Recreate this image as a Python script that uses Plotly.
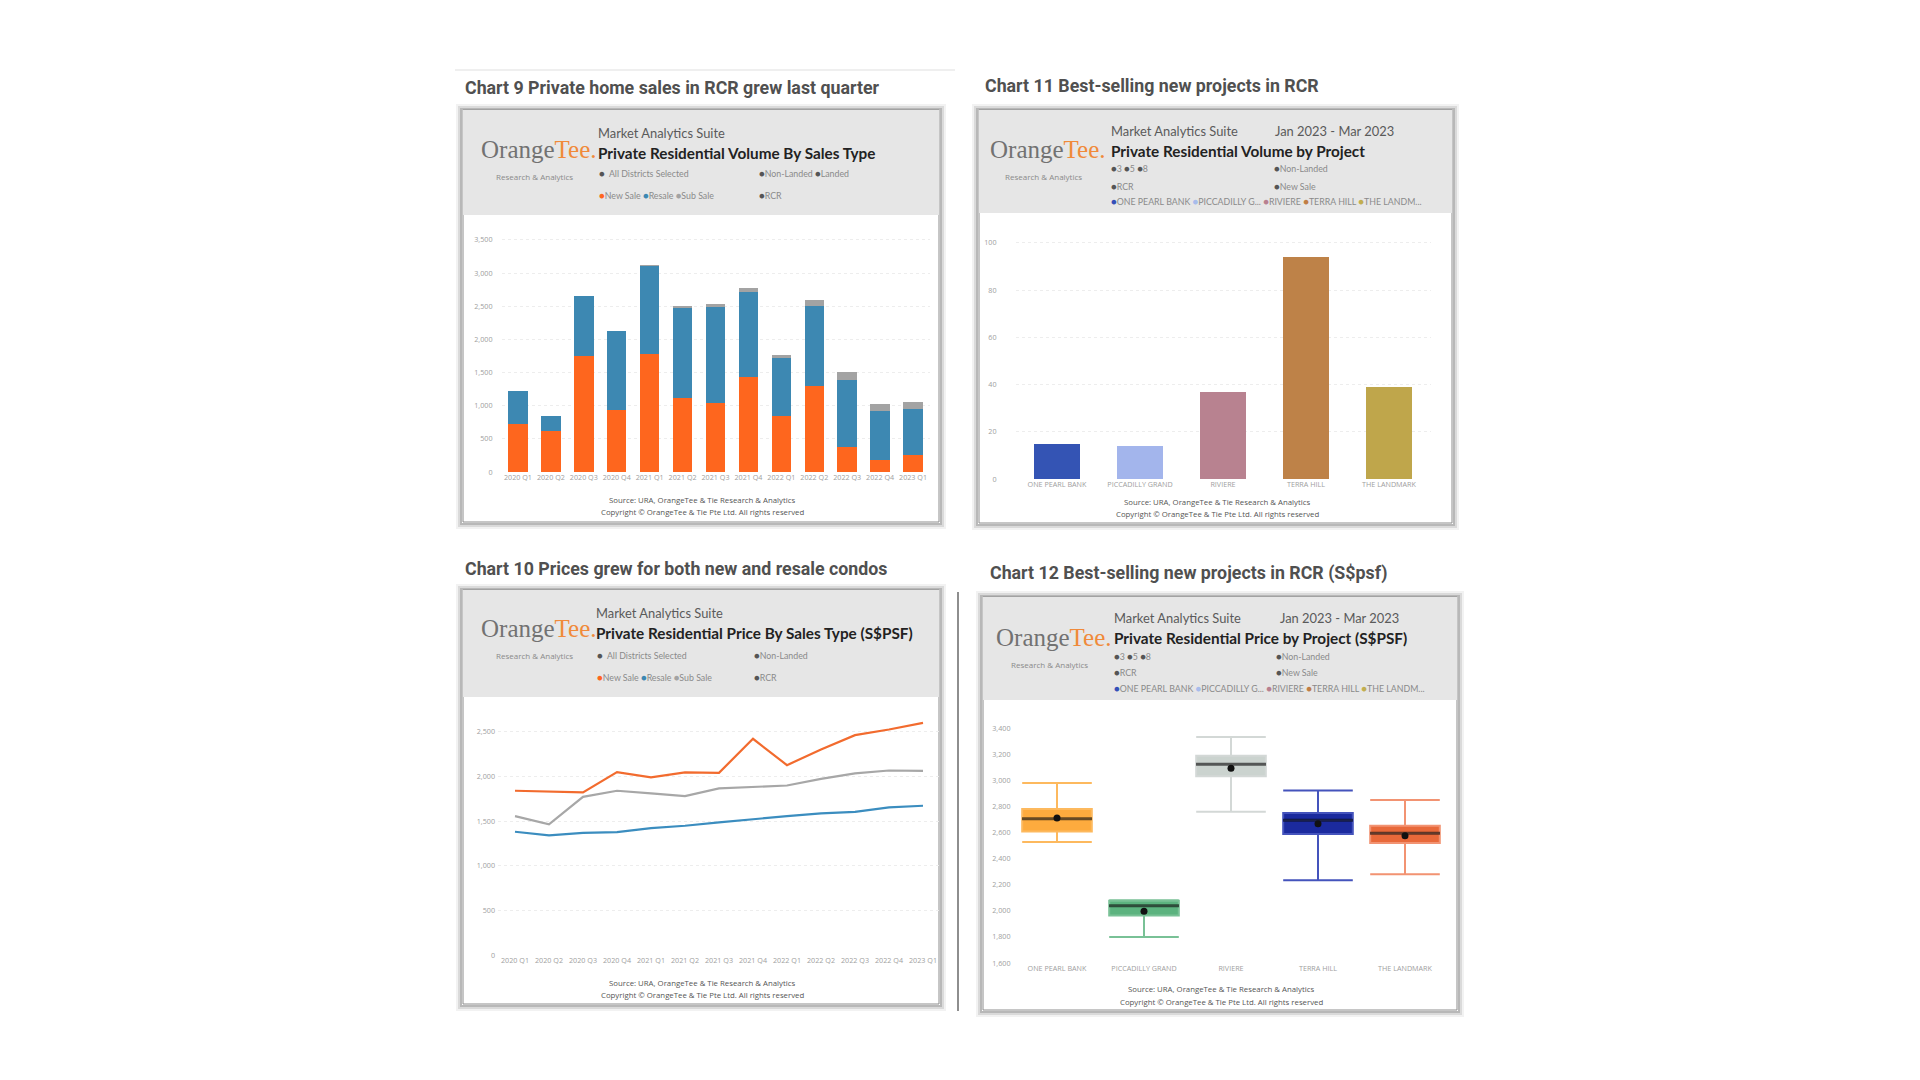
import plotly.graph_objects as go

# ---------------- DATA ----------------
quarters = ["2020 Q1", "2020 Q2", "2020 Q3", "2020 Q4", "2021 Q1", "2021 Q2", "2021 Q3",
            "2021 Q4", "2022 Q1", "2022 Q2", "2022 Q3", "2022 Q4", "2023 Q1"]
new_sale_vol = [720, 619, 1747, 932, 1778, 1118, 1047, 1435, 841, 1299, 378, 186, 262]
resale_vol = [500, 222, 912, 1198, 1334, 1350, 1446, 1284, 871, 1204, 1007, 736, 695]
subsale_vol = [0, 0, 0, 0, 10, 35, 35, 61, 51, 86, 121, 105, 106]

projects = ["ONE PEARL BANK", "PICCADILLY GRAND", "RIVIERE", "TERRA HILL", "THE LANDMARK"]
project_volume = [15, 14, 37, 94, 39]

new_sale_psf = [1840, 1832, 1821, 2049, 1989, 2045, 2041, 2422, 2127, 2302, 2463, 2526, 2601]
resale_psf = [1381, 1340, 1369, 1377, 1422, 1448, 1485, 1522, 1556, 1586, 1604, 1653, 1672]
subsale_psf = [1556, 1463, 1772, 1840, 1810, 1780, 1866, 1881, 1899, 1974, 2034, 2067, 2063]

box_max = [2979, 2080, 3331, 2922, 2848]
box_q3 = [2780, 2077, 3188, 2749, 2652]
box_median = [2705, 2039, 3122, 2693, 2593]
box_q1 = [2608, 1963, 3030, 2588, 2519]
box_min = [2527, 1799, 2759, 2233, 2279]
box_mean = [2711, 1996, 3091, 2667, 2575]

# ---------------- STYLE ----------------
W, H = 1920, 1080
C_NEW, C_RES, C_SUB = "#FE661E", "#3D88B2", "#A3A3A3"
L_NEW, L_RES, L_SUB = "#F26B2E", "#3B8DBF", "#A7A7A7"
proj_bar_colors = ["#3454B4", "#A3B5EC", "#B88290", "#BE8248", "#BFA64B"]
box_fill = ["#FDAB3E", "#5CB37F", "#CBD3CF", "#1B2A9E", "#E8693A"]
box_line = ["#FDB95E", "#79C196", "#D3D8D6", "#4453BC", "#F29372"]
HDR_FONT = "Lato"
TITLE_FONT = "Roboto"


def X(px):
    return px / W


def Y(py):
    return 1 - py / H


fig = go.Figure()

# Chart 9 - stacked bars
for name, vals, col in [("New Sale", new_sale_vol, C_NEW), ("Resale", resale_vol, C_RES),
                        ("Sub Sale", subsale_vol, C_SUB)]:
    fig.add_trace(go.Bar(x=quarters, y=vals, name=name, marker=dict(color=col, line=dict(width=0)),
                         xaxis="x", yaxis="y", showlegend=False))

# Chart 11 - bars per project
fig.add_trace(go.Bar(x=projects, y=project_volume, marker=dict(color=proj_bar_colors, line=dict(width=0)),
                     xaxis="x2", yaxis="y2", showlegend=False, width=0.56))

# Chart 10 - lines
for name, vals, col in [("Sub Sale", subsale_psf, L_SUB), ("Resale", resale_psf, L_RES),
                        ("New Sale", new_sale_psf, L_NEW)]:
    fig.add_trace(go.Scatter(x=quarters, y=vals, mode="lines", name=name,
                             line=dict(color=col, width=2.2), xaxis="x3", yaxis="y3", showlegend=False))

# Chart 12 - box plots
for i, p in enumerate(projects):
    fig.add_trace(go.Box(x=[p], q1=[box_q1[i]], median=[box_median[i]], q3=[box_q3[i]],
                         lowerfence=[box_min[i]], upperfence=[box_max[i]],
                         fillcolor=box_fill[i], line=dict(color=box_line[i], width=2),
                         whiskerwidth=1, width=0.8, xaxis="x4", yaxis="y4", showlegend=False,
                         hoverinfo="skip"))
fig.add_trace(go.Scatter(x=projects, y=box_median, mode="markers",
                         marker=dict(symbol="line-ew", size=50, line=dict(color="rgba(0,0,0,0.6)", width=3)),
                         xaxis="x4", yaxis="y4", showlegend=False))
fig.add_trace(go.Scatter(x=projects, y=box_mean, mode="markers",
                         marker=dict(symbol="circle", size=7, color="#111111"),
                         xaxis="x4", yaxis="y4", showlegend=False))

tickfont = dict(family="Open Sans", size=7.2, color="#A0A0A0")
grid = dict(showgrid=True, gridcolor="#EDEDED", griddash="dot", gridwidth=1, zeroline=False,
            showline=False, ticks="")
xcommon = dict(showgrid=False, zeroline=False, showline=False, ticks="", tickfont=tickfont,
               type="category", tickangle=0)

layout = dict(
    width=W, height=H, margin=dict(l=0, r=0, t=0, b=0, pad=0),
    paper_bgcolor="white", plot_bgcolor="rgba(0,0,0,0)", template="none",
    barmode="stack", boxmode="overlay", showlegend=False, bargap=0.41,
    xaxis=dict(domain=[X(501.5), X(929.5)], anchor="y", range=[-0.5, 12.5], **xcommon),
    yaxis=dict(domain=[Y(472), Y(230)], anchor="x", range=[0, 3650], tickvals=[0, 500, 1000, 1500, 2000, 2500, 3000, 3500],
               tickformat=",", tickfont=tickfont, ticklabelstandoff=8, **grid),
    xaxis2=dict(domain=[X(1015.5), X(1430.5)], anchor="y2", range=[-0.5, 4.5], **xcommon),
    yaxis2=dict(domain=[Y(479), Y(231)], anchor="x2", range=[0, 105], tickvals=[0, 20, 40, 60, 80, 100],
                tickfont=tickfont, ticklabelstandoff=18, **grid),
    xaxis3=dict(domain=[X(498), X(940)], anchor="y3", range=[-0.5, 12.5], **xcommon),
    yaxis3=dict(domain=[Y(955), Y(714)], anchor="x3", range=[0, 2700], tickvals=[0, 500, 1000, 1500, 2000, 2500],
                tickformat=",", tickprefix="$", tickfont=tickfont, ticklabelstandoff=2, **grid),
    xaxis4=dict(domain=[X(1013.5), X(1448.5)], anchor="y4", range=[-0.5, 4.5], **xcommon),
    yaxis4=dict(domain=[Y(963), Y(721.5)], anchor="x4", range=[1600, 3450],
                tickvals=[1600, 1800, 2000, 2200, 2400, 2600, 2800, 3000, 3200, 3400],
                tickformat=",", tickprefix="$", tickfont=tickfont, ticklabelstandoff=2,
                showgrid=False, zeroline=False, showline=False, ticks=""),
)
fig.update_layout(**layout)

shapes = []
annots = []


def rect(x0, y0, x1, y1, **kw):
    shapes.append(dict(type="rect", xref="paper", yref="paper", x0=X(x0), x1=X(x1), y0=Y(y1), y1=Y(y0),
                       layer="below", **kw))


def text(x, y, t, size, color="#555", family=HDR_FONT, xanchor="left", bold=False):
    if bold:
        t = "<b>" + t + "</b>"
    annots.append(dict(xref="paper", yref="paper", x=X(x), y=Y(y), text=t, showarrow=False,
                       xanchor=xanchor, yanchor="middle", font=dict(family=family, size=size, color=color)))


def card(x0, y0, x1, y1, hdr_bottom):
    for off, col in [(6, "#F2F2F2"), (4, "#DADADA"), (2, "#B8B8B8")]:
        rect(x0 - off, y0 - off + 1, x1 + off, y1 + off, line=dict(width=2, color=col), fillcolor="rgba(0,0,0,0)")
    rect(x0, y0, x1, y1, line=dict(width=1, color="#8C8C8C"), fillcolor="white")
    rect(x0, y0, x1, hdr_bottom, line=dict(width=0), fillcolor="#E6E6E6")


def logo(x, y):
    text(x, y, "<span style='color:#727272'>Orange</span><span style='color:#F08A3A'>Tee.</span>", 25,
         family="Liberation Serif")
    text(x + 55, y + 27, "Research &amp; Analytics", 8, color="#8A8A8A", xanchor="center", family="Open Sans")


def dot(c):
    return "<span style='color:%s;font-size:9.5px'>●</span>" % c


# faint rule at top
shapes.append(dict(type="line", xref="paper", yref="paper", x0=X(455), x1=X(955), y0=Y(70), y1=Y(70),
                   line=dict(color="#EFEFEF", width=2), layer="below"))
# vertical separator line
shapes.append(dict(type="line", xref="paper", yref="paper", x0=X(958), x1=X(958), y0=Y(592), y1=Y(1011),
                   line=dict(color="#8E8E8E", width=2), layer="below"))

SEC = "#505050"
DK = "#5A5A5A"
GR = "#8A8A8A"
SL = 8.8
TS = 17.8
MS = 12.9
BS = 15.3
FS = 7.8

# ---- Chart 9 ----
text(463, 87, "Chart 9 Private home sales in RCR grew last quarter", TS, SEC, TITLE_FONT, bold=True)
card(463, 110, 939, 522, 215)
logo(479, 149)
text(596, 133, "Market Analytics Suite", MS, DK)
text(596, 153, "Private Residential Volume By Sales Type", BS, "#222", bold=True)
text(597, 173, dot("#555") + "  All Districts Selected", SL, GR)
text(757, 173, dot("#555") + "Non-Landed " + dot("#555") + "Landed", SL, GR)
text(597, 196, dot(C_NEW) + "New Sale " + dot(C_RES) + "Resale " + dot(C_SUB) + "Sub Sale", SL, GR)
text(757, 196, dot("#555") + "RCR", SL, GR)
text(702, 500, "Source: URA, OrangeTee &amp; Tie Research &amp; Analytics", FS, "#555", "Open Sans", "center")
text(702, 512, "Copyright © OrangeTee &amp; Tie Pte Ltd. All rights reserved", FS, "#555", "Open Sans", "center")

# ---- Chart 11 ----
text(983, 85, "Chart 11 Best-selling new projects in RCR", TS, SEC, TITLE_FONT, bold=True)
card(979, 110, 1452, 523, 213)
logo(988, 149)
text(1109, 131, "Market Analytics Suite", MS, DK)
text(1273, 131, "Jan 2023 - Mar 2023", MS, DK)
text(1109, 151, "Private Residential Volume by Project", BS, "#222", bold=True)
text(1109, 169, dot("#555") + "3 " + dot("#555") + "5 " + dot("#555") + "8", SL, GR)
text(1272, 169, dot("#555") + "Non-Landed", SL, GR)
text(1109, 186, dot("#555") + "RCR", SL, GR)
text(1272, 186, dot("#555") + "New Sale", SL, GR)
text(1109, 201, dot("#3450B8") + "ONE PEARL BANK " + dot("#A8BCEB") + "PICCADILLY G... " + dot("#B88090")
     + "RIVIERE " + dot("#C07E45") + "TERRA HILL " + dot("#C2AE50") + "THE LANDM...", SL, GR)
text(1217, 502, "Source: URA, OrangeTee &amp; Tie Research &amp; Analytics", FS, "#555", "Open Sans", "center")
text(1217, 514, "Copyright © OrangeTee &amp; Tie Pte Ltd. All rights reserved", FS, "#555", "Open Sans", "center")

# ---- Chart 10 ----
text(463, 568, "Chart 10 Prices grew for both new and resale condos", TS, SEC, TITLE_FONT, bold=True)
card(463, 590, 939, 1004, 697)
logo(479, 628)
text(594, 613, "Market Analytics Suite", MS, DK)
text(594, 633, "Private Residential Price By Sales Type (S$PSF)", BS, "#222", bold=True)
text(595, 655, dot("#555") + "  All Districts Selected", SL, GR)
text(752, 655, dot("#555") + "Non-Landed", SL, GR)
text(595, 677, dot(C_NEW) + "New Sale " + dot(C_RES) + "Resale " + dot(C_SUB) + "Sub Sale", SL, GR)
text(752, 677, dot("#555") + "RCR", SL, GR)
text(702, 983, "Source: URA, OrangeTee &amp; Tie Research &amp; Analytics", FS, "#555", "Open Sans", "center")
text(702, 995, "Copyright © OrangeTee &amp; Tie Pte Ltd. All rights reserved", FS, "#555", "Open Sans", "center")

# ---- Chart 12 ----
text(988, 573, "Chart 12 Best-selling new projects in RCR (S$psf)", TS, SEC, TITLE_FONT, bold=True)
card(983, 597, 1457, 1010, 700)
logo(994, 637)
text(1112, 618, "Market Analytics Suite", MS, DK)
text(1278, 618, "Jan 2023 - Mar 2023", MS, DK)
text(1112, 638, "Private Residential Price by Project (S$PSF)", BS, "#222", bold=True)
text(1112, 656, dot("#555") + "3 " + dot("#555") + "5 " + dot("#555") + "8", SL, GR)
text(1274, 656, dot("#555") + "Non-Landed", SL, GR)
text(1112, 672, dot("#555") + "RCR", SL, GR)
text(1274, 672, dot("#555") + "New Sale", SL, GR)
text(1112, 688, dot("#3450B8") + "ONE PEARL BANK " + dot("#A8BCEB") + "PICCADILLY G... " + dot("#B88090")
     + "RIVIERE " + dot("#C07E45") + "TERRA HILL " + dot("#C2AE50") + "THE LANDM...", SL, GR)
text(1221, 989, "Source: URA, OrangeTee &amp; Tie Research &amp; Analytics", FS, "#555", "Open Sans", "center")
text(1221, 1002, "Copyright © OrangeTee &amp; Tie Pte Ltd. All rights reserved", FS, "#555", "Open Sans", "center")

fig.update_layout(shapes=shapes, annotations=annots)

fig.write_html("out.html", config={"displayModeBar": False},
               post_script="document.body.style.margin='0';document.body.style.overflow='hidden';")
